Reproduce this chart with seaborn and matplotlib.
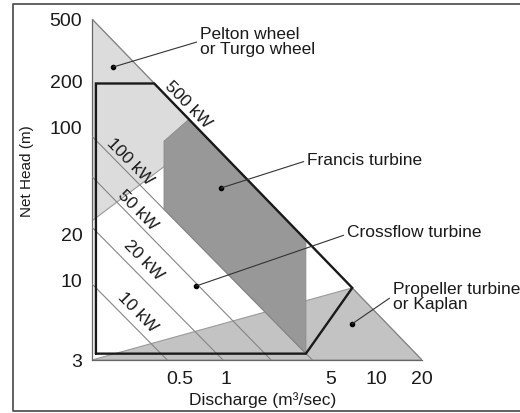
import matplotlib
matplotlib.use("Agg")
import matplotlib.pyplot as plt
import seaborn as sns
import pandas as pd
from matplotlib.lines import Line2D

# Turbine zones, corners (discharge m3/s, net head m)
pelton_q = [0.13, 0.13, 0.73]
pelton_h = [500, 24.2, 86.7]
francis_q = [0.39, 0.57, 3.4, 3.4, 0.39]
francis_h = [80, 111, 18.2, 3.3, 28.9]
propeller_q = [0.13, 6.9, 20]
propeller_h = [3, 8.85, 3]
crossflow_q = [0.138, 0.138, 0.336, 6.9, 3.4, 0.138]
crossflow_h = [3.3, 190, 190, 8.85, 3.3, 3.3]

# Constant power lines: head at the left edge, discharge where they hit 3 m
power_kw = [10, 20, 50, 100, 500]
head_at_left = [9.4, 22, 47, 86, 500]
q_at_floor = [0.41, 0.96, 2.0, 3.75, 20]

q_ticks = [0.5, 1, 5, 10, 20]
q_labels = ["0.5", "1", "5", "10", "20"]
h_ticks = [3, 10, 20, 100, 200, 500]
h_labels = ["3", "10", "20", "100", "200", "500"]

rows = []
for p, h0, q1 in zip(power_kw, head_at_left, q_at_floor):
    rows.append({"kW": p, "Q": 0.13, "H": h0})
    rows.append({"kW": p, "Q": q1, "H": 3})
lines_df = pd.DataFrame(rows)

sns.set_theme(style="white")
plt.rcParams["font.family"] = ["Liberation Sans", "DejaVu Sans"]
ink = "#1a1a1a"

fig = plt.figure(figsize=(5.2, 4.14), dpi=100)
ax = fig.add_axes([92 / 520, 53 / 414, 330 / 520, 341 / 414])
ax.set_xscale("log")
ax.set_yscale("log")

ax.fill(pelton_q, pelton_h, fc="#dcdcdc", ec="#9a9a9a", lw=0.8, zorder=1)
ax.fill(propeller_q, propeller_h, fc="#c3c3c3", ec="#9a9a9a", lw=0.8, zorder=1)
ax.fill(francis_q, francis_h, fc="#989898", ec="#8a8a8a", lw=0.6, zorder=2)

sns.lineplot(data=lines_df, x="Q", y="H", units="kW", estimator=None,
             sort=False, color="#858585", lw=0.8, legend=False, ax=ax, zorder=3)

ax.plot(crossflow_q, crossflow_h, color="#1a1a1a", lw=1.7, zorder=4,
        solid_joinstyle="miter")

# power labels along the lines
kw_label_pos = [(0.262, 6.17), (0.283, 13.5), (0.262, 28.9), (0.232, 59.4), (0.563, 139.6)]
for p, (qx, hy) in zip(power_kw, kw_label_pos):
    ax.text(qx, hy, f"{p} kW", rotation=-45.5, rotation_mode="anchor",
            ha="center", va="center", fontsize=12.5, color=ink, zorder=5)

# zone names with leader lines
notes = [
    ("Pelton wheel\nor Turgo wheel", (0.179, 243), (0.675, 359), (0, 0.5)),
    ("Francis turbine", (0.931, 39.6), (3.46, 61.2), (0, 0.4)),
    ("Crossflow turbine", (0.636, 9.1), (6.36, 20.5), (0, 0.35)),
    ("Propeller turbine\nor Kaplan", (6.87, 5.15), (12.8, 7.84), (0, 0.5)),
]
for text, dot, pos, rel in notes:
    ax.plot(*dot, "o", ms=3, color="black", zorder=6)
    ax.annotate(text, xy=dot, xytext=pos, ha="left", va="center",
                fontsize=12.5, color=ink, linespacing=1.05,
                annotation_clip=False, zorder=6,
                arrowprops=dict(arrowstyle="-", color="#333333", lw=0.8,
                                relpos=rel, shrinkA=0, shrinkB=0))

ax.set_xlim(0.13, 20)
ax.set_ylim(3, 500)
ax.set_xticks(q_ticks, labels=q_labels)
ax.set_yticks(h_ticks, labels=h_labels)
ax.minorticks_off()
ax.tick_params(direction="out", length=5, width=0.9, color="#666666",
               labelsize=14, labelcolor=ink, pad=2)
sns.despine(ax=ax)
for side in ["left", "bottom"]:
    ax.spines[side].set_color("#666666")
    ax.spines[side].set_linewidth(0.9)

ax.set_xlabel("Discharge (m³/sec)", fontsize=12.5, color=ink)
ax.set_ylabel("Net Head (m)", fontsize=11, color=ink)
ax.xaxis.set_label_coords(0.518, -0.09)
ax.yaxis.set_label_coords(-0.175, 0.556)

# page frame: top, left and bottom only (cut off on the right)
x0, y0, y1 = 13 / 520, 2 / 414, 409 / 414
fig.add_artist(Line2D([1, x0, x0, 1], [y1, y1, y0, y0],
                      transform=fig.transFigure, color="#555555", lw=1.3))

fig.savefig("out.png", dpi=100)
